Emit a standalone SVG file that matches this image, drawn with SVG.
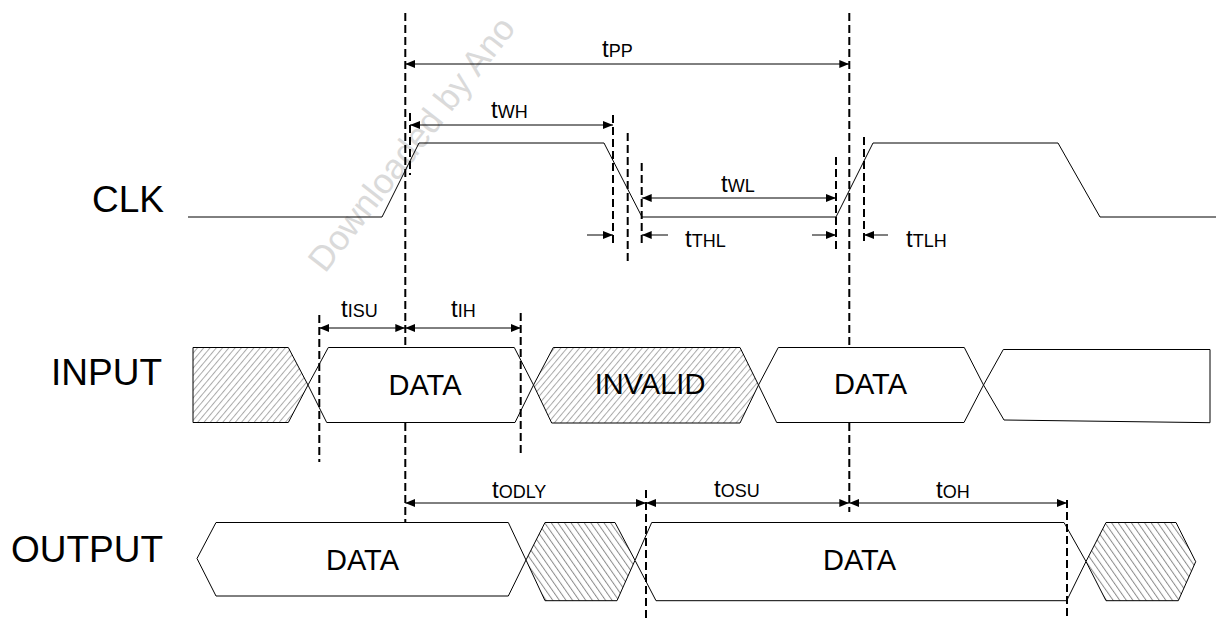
<svg xmlns="http://www.w3.org/2000/svg" width="1217" height="618" viewBox="0 0 1217 618">
<style>
.lbl{font-family:"Liberation Sans",Arial,sans-serif;font-size:37px;fill:#000;text-anchor:end}
.dat{font-family:"Liberation Sans",Arial,sans-serif;font-size:29px;fill:#000;text-anchor:middle}
.t{font-family:"Liberation Sans",Arial,sans-serif;font-size:24px;fill:#000}
.sub{font-size:18px}
.wave{fill:none;stroke:#000;stroke-width:1}
.shape{fill:#fff;stroke:#000;stroke-width:1;stroke-linejoin:miter}
.hin{fill:url(#hatchIn);stroke:#000;stroke-width:1}
.hout{fill:url(#hatchOut);stroke:#000;stroke-width:1}
.dash{stroke:#000;stroke-width:2;stroke-dasharray:8 4;fill:none}
.dim{stroke:#000;stroke-width:1;fill:none}
.arr2{marker-start:url(#ah);marker-end:url(#ah)}
.arr1{marker-end:url(#ah)}
</style>
<defs>
<marker id="ah" viewBox="0 0 10 8" refX="10" refY="4" markerWidth="10" markerHeight="8" markerUnits="userSpaceOnUse" orient="auto-start-reverse">
<path d="M0,0 L10,4 L0,8 z" fill="#000"/>
</marker>
<pattern id="hatchIn" width="4.8" height="10" patternUnits="userSpaceOnUse" patternTransform="rotate(40)">
<rect width="4.8" height="10" fill="#fff"/>
<line x1="0.5" y1="0" x2="0.5" y2="10" stroke="#aaaaaa" stroke-width="1"/>
</pattern>
<pattern id="hatchOut" width="5.4" height="10" patternUnits="userSpaceOnUse" patternTransform="rotate(-35)">
<rect width="5.4" height="10" fill="#fff"/>
<line x1="0.5" y1="0" x2="0.5" y2="10" stroke="#8c8c8c" stroke-width="1"/>
</pattern>
</defs>
<rect width="1217" height="618" fill="#fff"/>

<text id="watermark" x="325" y="274" transform="rotate(-52 325 274)" font-family="'Liberation Sans',Arial,sans-serif" font-size="35" fill="#dadada">Downloaded by Ano</text>

<g id="labels">
<text id="clk-label" class="lbl" x="164" y="212">CLK</text>
<text id="input-label" class="lbl" x="162" y="385">INPUT</text>
<text id="output-label" class="lbl" x="163" y="562">OUTPUT</text>
</g>

<g id="clk">
<polyline class="wave" points="188,217 382,217 419,143 604,143 642,217 836,217 873,143 1058,143 1100,217 1216,217"/>
</g>

<g id="input">
<g id="in-invalid-1"><polygon class="hin" points="193,347.5 288.3,347.5 308,385 288.3,422.5 193,422.5"/></g>
<g id="in-data-1"><polygon class="shape" points="308,385 328.3,347.5 514.3,347.5 533.5,385 515,422.5 326.7,422.5"/>
<text class="dat" x="425" y="395">DATA</text></g>
<g id="in-invalid-2"><polygon class="hin" points="533.5,385 553.3,347.5 740,347.5 758.5,385 740,423 551.7,423"/>
<text class="dat" x="650" y="394">INVALID</text></g>
<g id="in-data-2"><polygon class="shape" points="758.5,385 778.3,347.5 964.3,347.5 983.5,385 964,422.5 776.7,422.5"/>
<text class="dat" x="870.5" y="394">DATA</text></g>
<g id="in-next"><polygon class="shape" points="983.5,385 1003.3,349.5 1210,349.5 1210,422.7 1004,420"/></g>
</g>

<g id="output">
<g id="out-data-1"><polygon class="shape" points="197,558.5 216,522.5 508.3,522.5 526,560 508.3,596 216,596"/>
<text class="dat" x="362.5" y="570">DATA</text></g>
<g id="out-invalid-1"><polygon class="hout" points="526,560 545,522.5 615,522.5 635,560.3 617,600.7 545,600.7"/></g>
<g id="out-data-2"><polygon class="shape" points="635,560.3 651.7,522.5 1064,522.5 1086,561.5 1066.7,600.7 656,600.7"/>
<text class="dat" x="859.5" y="570">DATA</text></g>
<g id="out-invalid-2"><polygon class="hout" points="1086,561.5 1106,522.5 1176,522.5 1195.7,561.7 1178.3,600.7 1106,600.7"/></g>
</g>

<g id="connectors">
<g id="dashed">
<line class="dash" x1="405.3" y1="13" x2="405.3" y2="347"/>
<line class="dash" x1="405.3" y1="423" x2="405.3" y2="522"/>
<line class="dash" x1="849.3" y1="13" x2="849.3" y2="347"/>
<line class="dash" x1="849.3" y1="423" x2="849.3" y2="512"/>
<line class="dash" x1="410" y1="113" x2="410" y2="175"/>
<line class="dash" x1="613" y1="115" x2="613" y2="245"/>
<line class="dash" x1="627.7" y1="133" x2="627.7" y2="263"/>
<line class="dash" x1="641.7" y1="163" x2="641.7" y2="245"/>
<line class="dash" x1="836" y1="157" x2="836" y2="250"/>
<line class="dash" x1="864" y1="137" x2="864" y2="245"/>
<line class="dash" x1="319.3" y1="315" x2="319.3" y2="462"/>
<line class="dash" x1="520.7" y1="313" x2="520.7" y2="455"/>
<line class="dash" x1="646" y1="490" x2="646" y2="618"/>
<line class="dash" x1="1067" y1="500" x2="1067" y2="618"/>
</g>
<g id="dimensions">
<line class="dim arr2" x1="405.3" y1="64" x2="849.3" y2="64"/>
<line class="dim arr2" x1="410" y1="125" x2="613" y2="125"/>
<line class="dim arr2" x1="641.7" y1="198" x2="836" y2="198"/>
<line class="dim arr1" x1="587" y1="235" x2="613" y2="235"/>
<line class="dim arr1" x1="668" y1="235" x2="641.7" y2="235"/>
<line class="dim arr1" x1="812" y1="235" x2="836" y2="235"/>
<line class="dim arr1" x1="888" y1="235" x2="864" y2="235"/>
<line class="dim arr2" x1="319.3" y1="328" x2="405.3" y2="328"/>
<line class="dim arr2" x1="405.3" y1="328" x2="520.7" y2="328"/>
<line class="dim arr2" x1="405.3" y1="503" x2="646" y2="503"/>
<line class="dim arr2" x1="646" y1="503" x2="849.3" y2="503"/>
<line class="dim arr2" x1="849.3" y1="503" x2="1067" y2="503"/>
</g>
<g id="dim-labels">
<text class="t" x="602" y="57">t<tspan class="sub">PP</tspan></text>
<text class="t" x="491" y="118">t<tspan class="sub">WH</tspan></text>
<text class="t" x="721" y="192">t<tspan class="sub">WL</tspan></text>
<text class="t" x="685" y="247">t<tspan class="sub">THL</tspan></text>
<text class="t" x="906" y="247">t<tspan class="sub">TLH</tspan></text>
<text class="t" x="341" y="317">t<tspan class="sub">ISU</tspan></text>
<text class="t" x="451" y="317">t<tspan class="sub">IH</tspan></text>
<text class="t" x="492" y="498">t<tspan class="sub">ODLY</tspan></text>
<text class="t" x="714" y="497">t<tspan class="sub">OSU</tspan></text>
<text class="t" x="936" y="498">t<tspan class="sub">OH</tspan></text>
</g>
</g>
</svg>
